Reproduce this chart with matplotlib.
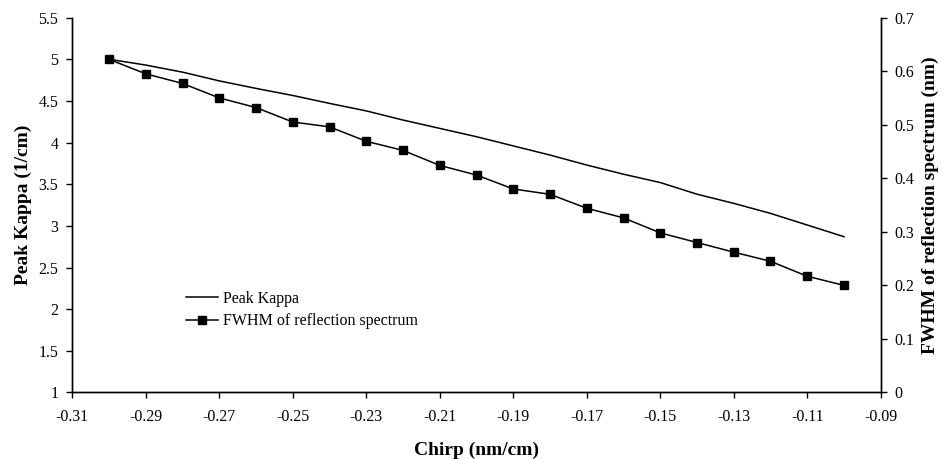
import matplotlib
matplotlib.use("Agg")
import matplotlib.pyplot as plt
from matplotlib.ticker import FormatStrFormatter, FuncFormatter

plt.rcParams['font.family'] = ['Liberation Serif', 'DejaVu Serif']

# chirp values (nm/cm)
chirp = [-0.30, -0.29, -0.28, -0.27, -0.26, -0.25, -0.24, -0.23, -0.22, -0.21, -0.20,
         -0.19, -0.18, -0.17, -0.16, -0.15, -0.14, -0.13, -0.12, -0.11, -0.10]

# peak kappa (1/cm), left axis
peak_kappa = [5.00, 4.93, 4.845, 4.74, 4.65, 4.565, 4.47, 4.38, 4.27, 4.17, 4.07,
              3.96, 3.85, 3.73, 3.62, 3.52, 3.38, 3.27, 3.15, 3.01, 2.87]

# FWHM of reflection spectrum (nm), right axis
fwhm = [0.622, 0.595, 0.577, 0.550, 0.532, 0.505, 0.496, 0.469, 0.452, 0.424, 0.406,
        0.380, 0.370, 0.344, 0.326, 0.298, 0.280, 0.262, 0.245, 0.217, 0.200]

x_ticks = [-0.31, -0.29, -0.27, -0.25, -0.23, -0.21, -0.19, -0.17, -0.15, -0.13, -0.11, -0.09]
left_ticks = [1, 1.5, 2, 2.5, 3, 3.5, 4, 4.5, 5, 5.5]
right_ticks = [0, 0.1, 0.2, 0.3, 0.4, 0.5, 0.6, 0.7]

fig = plt.figure(figsize=(9.45, 4.59), dpi=100)
ax = fig.add_axes([0.0765, 0.1449, 0.8555, 0.8168])
ax2 = ax.twinx()

l1, = ax.plot(chirp, peak_kappa, color='black', linewidth=1.1, label='Peak Kappa')
l2, = ax2.plot(chirp, fwhm, color='black', linewidth=1.1, marker='s', markersize=6,
               label='FWHM of reflection spectrum')

ax.set_xlim(-0.31, -0.09)
ax.set_ylim(1, 5.5)
ax2.set_ylim(0, 0.7)
ax.set_xticks(x_ticks)
ax.set_yticks(left_ticks)
ax2.set_yticks(right_ticks)
ax.xaxis.set_major_formatter(FormatStrFormatter('%.2f'))
gfmt = FuncFormatter(lambda v, p: '%g' % round(v, 3))
ax.yaxis.set_major_formatter(gfmt)
ax2.yaxis.set_major_formatter(gfmt)

for a in (ax, ax2):
    a.spines['top'].set_visible(False)
    a.tick_params(direction='out', length=4, width=1, labelsize=11.5, colors='black')
    for s in a.spines.values():
        s.set_linewidth(1)
ax.tick_params(axis='y', pad=6)
ax2.tick_params(axis='y', pad=6)
ax.tick_params(axis='x', pad=8)

ax.set_xlabel('Chirp (nm/cm)', fontsize=14, fontweight='bold', labelpad=12)
ax.set_ylabel('Peak Kappa (1/cm)', fontsize=14, fontweight='bold', labelpad=5)
ax2.set_ylabel('FWHM of reflection spectrum (nm)', fontsize=14, fontweight='bold', labelpad=5)

ax2.legend(handles=[l1, l2], loc='upper left', bbox_to_anchor=(0.1407, 0.271),
           frameon=False, fontsize=11.5, borderpad=0, borderaxespad=0,
           handlelength=2.0, handletextpad=0.3, labelspacing=0.4)

fig.savefig('out.png', dpi=100)
